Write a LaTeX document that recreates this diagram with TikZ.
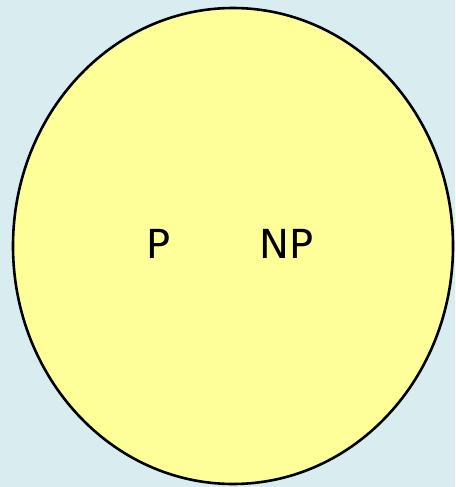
\documentclass[tikz,border=0pt]{standalone}
\usepackage{fontspec}
\setsansfont{DejaVu Sans}
\definecolor{bgblue}{HTML}{D9ECF0}
\definecolor{setyellow}{HTML}{FFFF99}
\begin{document}
\begin{tikzpicture}[x=1pt,y=-1pt,
	setlabel/.style={font=\sffamily\fontsize{40}{40}\selectfont,inner sep=0pt,anchor=base}]
	\fill[bgblue] (0,0) rectangle (455,487);
	\useasboundingbox (0,0) rectangle (455,487);
	\draw[line width=2.6pt,black,fill=setyellow]
	(233,246) ellipse [x radius=220,y radius=238];
	\node[setlabel] (p) at (159,258) {P};
	\node[setlabel] (np) at (286.5,258) {NP};
\end{tikzpicture}
\end{document}
